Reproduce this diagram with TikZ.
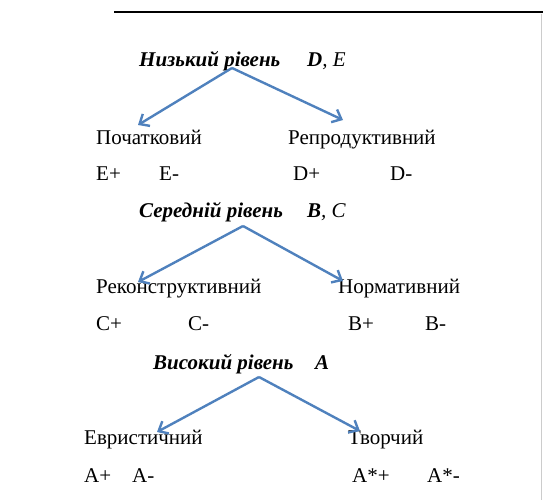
\documentclass[tikz,border=0pt]{standalone}
\usepackage{fontspec}
\setmainfont{Liberation Serif}
\usetikzlibrary{arrows.meta}
\definecolor{arrowblue}{RGB}{79,129,189}

\begin{document}
\begin{tikzpicture}[x=1pt,y=-1pt,
    every node/.style={inner sep=0pt,anchor=base west,font=\fontsize{21}{24}\selectfont},
    title/.style={font=\fontsize{21}{24}\selectfont\bfseries\itshape},
    grade/.style={font=\fontsize{21}{24}\selectfont\itshape},
    branch/.style={draw=arrowblue,line width=2.4pt,-{Straight Barb[length=8pt,width=14pt]}}]
    \useasboundingbox (0,0) rectangle (543,500);
    \draw[line width=2pt] (114,12) -- (543,12);
    \draw[gray!40] (541,14) -- (541,500);

    % low level
    \node[title] (low) at (139,67) {Низький рівень};
    \node[grade] (lowgr) at (307,67) {\textbf{D}, E};
    \coordinate (low-s) at (232,68);
    \coordinate (poch-t) at (138,125);
    \coordinate (repr-t) at (343,120);
    \node (poch) at (96,144) {Початковий};
    \node (repr) at (288,144) {Репродуктивний};
    \node (ep) at (96,180) {E+};
    \node (em) at (159,180) {E-};
    \node (dp) at (293,180) {D+};
    \node (dm) at (390,180) {D-};
    \draw[branch] (low-s) -- (poch-t);
    \draw[branch] (low-s) -- (repr-t);

    % middle level
    \node[title] (mid) at (139,217) {Середній рівень};
    \node[grade] (midgr) at (307,217) {\textbf{B}, C};
    \coordinate (mid-s) at (243,226);
    \coordinate (rek-t) at (138,282);
    \coordinate (norm-t) at (343,281);
    \node (rek) at (96,293) {Реконструктивний};
    \node (norm) at (338,293) {Нормативний};
    \node (cp) at (96,330) {C+};
    \node (cm) at (188,330) {C-};
    \node (bp) at (348,330) {B+};
    \node (bm) at (425,330) {B-};
    \draw[branch] (mid-s) -- (rek-t);
    \draw[branch] (mid-s) -- (norm-t);

    % high level
    \node[title] (high) at (153,369) {Високий рівень};
    \node[title] (highgr) at (315,369) {A};
    \coordinate (high-s) at (259,377);
    \coordinate (evr-t) at (157,432);
    \coordinate (tvor-t) at (360,431);
    \node (evr) at (84,444) {Евристичний};
    \node (tvor) at (348,444) {Творчий};
    \node (ap) at (84,482) {A+};
    \node (am) at (132,482) {A-};
    \node (asp) at (352,482) {A*+};
    \node (asm) at (427,482) {A*-};
    \draw[branch] (high-s) -- (evr-t);
    \draw[branch] (high-s) -- (tvor-t);
\end{tikzpicture}
\end{document}
